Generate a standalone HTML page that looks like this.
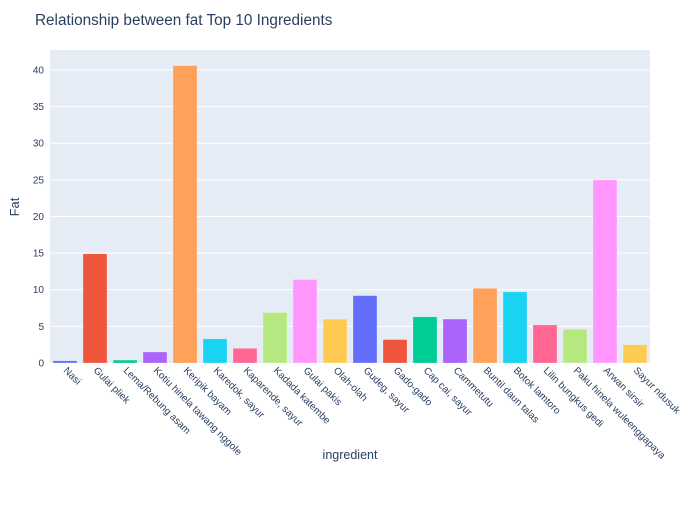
<!DOCTYPE html>
<html><head><meta charset="utf-8"><style>body{margin:0;background:#fff}svg{font-family:"Liberation Sans",Arial,sans-serif}</style></head>
<body>
<svg id="chart" width="700" height="500">
<rect x="0" y="0" width="700" height="500" fill="#fff"/>
<rect x="50" y="50" width="600" height="313" fill="#e5ecf6"/>
<g id="grid"></g><g id="bars"></g><g id="xt"></g><g id="yt"></g>
<text x="35" y="25" font-size="15.3" fill="#2a3f5f">Relationship between fat Top 10 Ingredients</text>
<text x="19" y="207" font-size="13" fill="#2a3f5f" text-anchor="middle" transform="rotate(-90 19 207)">Fat</text>
<text x="350" y="459" font-size="12.5" fill="#2a3f5f" text-anchor="middle">ingredient</text>
</svg>
<script>
const categories=["Nasi","Gulai pliek","Lema/Rebung asam","Kotiu hinela tawang nggole","Keripik bayam","Karedok, sayur","Kaparende, sayur","Kadada katembe","Gulai pakis","Olah-olah","Gudeg, sayur","Gado-gado","Cap cai, sayur","Cammetutu","Buntil daun talas","Botok lamtoro","Lilin bungkus gedi","Paku hinela wuleenggapaya","Arwan sirsir","Sayur ndusuk"];
const fatValues=[0.3,14.9,0.4,1.5,40.6,3.3,2.0,6.9,11.4,6.0,9.2,3.2,6.3,6.0,10.2,9.7,5.2,4.6,25.0,2.5];
const yTicks=[0,5,10,15,20,25,30,35,40];
const palette=["#636efa","#EF553B","#00cc96","#ab63fa","#FFA15A","#19d3f3","#FF6692","#B6E880","#FF97FF","#FECB52"];
const NS="http://www.w3.org/2000/svg";
const x0=50,pw=600,y0=363,yTop=50,ymax=42.73;
const bw=pw/categories.length;
const yS=v=>y0-(v/ymax)*(y0-yTop);
const xS=i=>x0+bw*(i+0.5);
function mk(t,a,p){const e=document.createElementNS(NS,t);for(const k in a)e.setAttribute(k,a[k]);document.getElementById(p).appendChild(e);return e;}
yTicks.forEach(v=>{
 if(v>0){const l=mk("line",{x1:x0,x2:x0+pw,y1:yS(v),y2:yS(v),stroke:"#fff","stroke-width":1},"grid");
 
 }
 const t=mk("text",{x:x0-6,y:yS(v)+3.5,"font-size":10,fill:"#2a3f5f","text-anchor":"end"},"yt");
 t.textContent=v;
 
 
});
categories.forEach((c,i)=>{
 const w=bw*0.8,v=fatValues[i];
 const r=mk("rect",{x:xS(i)-w/2,y:yS(v),width:w,height:y0-yS(v),fill:palette[i%10],stroke:"rgba(255,255,255,0.5)","stroke-width":0.5},"bars");
 
 
 const x=xS(i)-2,y=y0+8;
 const t=mk("text",{x:x,y:y,"font-size":10,fill:"#2a3f5f",transform:`rotate(45 ${x} ${y})`},"xt");
 t.textContent=c;
 
 
});
</script>
</body></html>
